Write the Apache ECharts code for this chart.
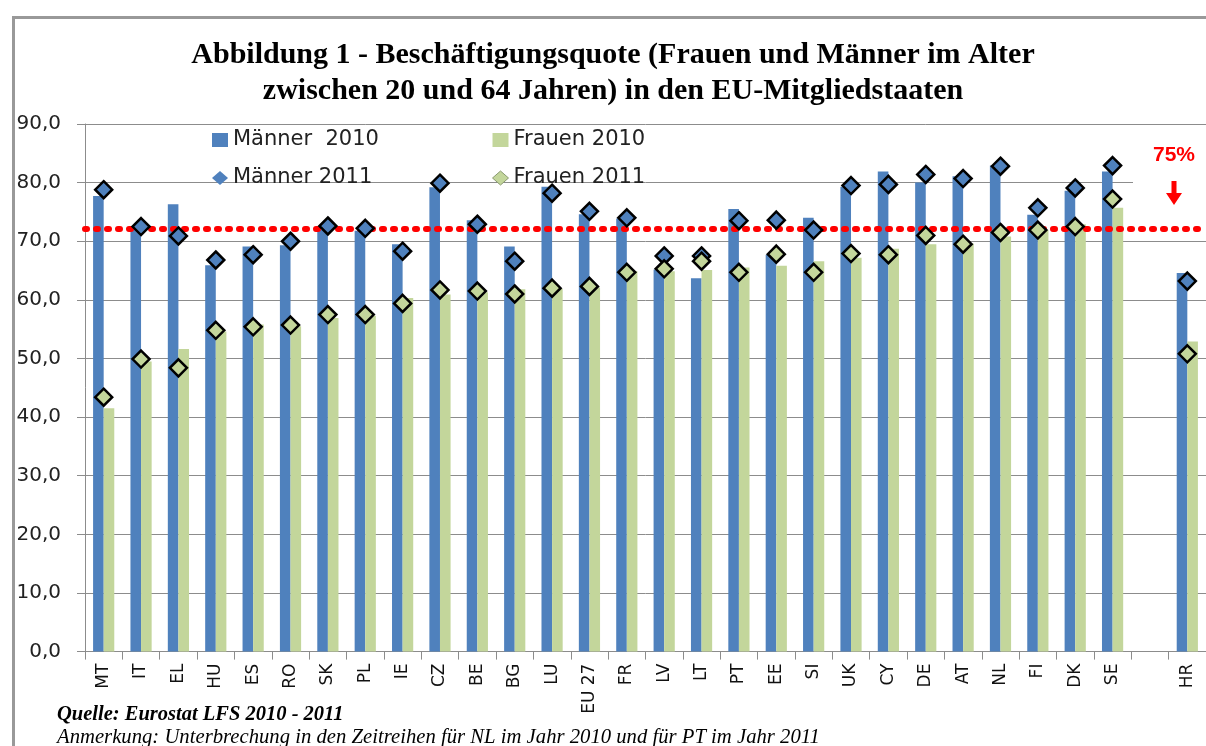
<!DOCTYPE html>
<html>
<head>
<meta charset="utf-8">
<script src="https://cdn.jsdelivr.net/npm/echarts@6/dist/echarts.min.js"></script>
<style>
html,body{margin:0;padding:0;background:#fff;}
#chart{width:1206px;height:746px;}
</style>
</head>
<body>
<div id="chart"></div>
<script>
const categories = ['MT','IT','EL','HU','ES','RO','SK','PL','IE','CZ','BE','BG','LU','EU 27','FR','LV','LT','PT','EE','SI','UK','CY','DE','AT','NL','FI','DK','SE','','HR'];
const maenner2010 = [77.7,72.0,76.3,65.9,69.1,69.3,71.9,71.8,69.5,79.2,73.6,69.1,79.3,74.6,73.9,65.2,63.7,75.5,67.7,74.0,79.3,81.9,80.0,81.1,82.9,74.5,78.6,81.9,null,64.6];
const frauen2010 = [41.5,49.5,51.6,54.6,55.8,55.5,56.9,57.3,60.3,60.9,61.3,61.8,61.9,62.1,64.9,64.9,65.1,65.5,65.8,66.6,67.2,68.7,69.5,69.6,70.8,71.9,72.9,75.7,null,52.9];
const maenner2011 = [78.8,72.5,70.9,66.8,67.7,70.0,72.6,72.2,68.3,79.9,72.9,66.6,78.2,75.1,74.0,67.5,67.5,73.5,73.6,71.9,79.5,79.7,81.4,80.7,82.8,75.7,79.1,82.9,null,63.2];
const frauen2011 = [43.4,49.9,48.4,54.8,55.4,55.7,57.5,57.5,59.4,61.7,61.5,61.0,62.0,62.3,64.7,65.3,66.6,64.7,67.8,64.7,67.9,67.7,71.0,69.5,71.5,71.9,72.5,77.2,null,50.8];
const targetLine = 72.2;
const targetLabel = '75%';
const yTicks = {min: 0, max: 90, interval: 10};

const BLUE = '#4F81BD', GREEN = '#C3D69B', GRID = '#8c8c8c';
const sans = 'DejaVu Sans';

const chart = echarts.init(document.getElementById('chart'), null, {renderer: 'canvas'});
chart.setOption({
  animation: false,
  backgroundColor: '#fff',
  title: {
    text: 'Abbildung 1 - Beschäftigungsquote (Frauen und Männer im Alter\nzwischen 20 und 64 Jahren) in den EU-Mitgliedstaaten',
    left: 613, top: 37, textAlign: 'center', padding: 0,
    textStyle: {fontFamily: 'Liberation Serif', fontWeight: 'bold', fontSize: 30, lineHeight: 36, color: '#000'}
  },
  legend: [
    {orient: 'vertical', left: 207, top: 124, itemGap: 16, itemWidth: 16, itemHeight: 14,
     textStyle: {fontFamily: sans, fontSize: 21, color: '#222', lineHeight: 22},
     data: [{name: 'Männer  2010', icon: 'rect'}, {name: 'Männer 2011', icon: 'diamond', itemStyle: {borderWidth: 0}}]},
    {orient: 'vertical', left: 487, top: 124, itemGap: 16, itemWidth: 16, itemHeight: 14,
     textStyle: {fontFamily: sans, fontSize: 21, color: '#222', lineHeight: 22},
     data: [{name: 'Frauen 2010', icon: 'rect'}, {name: 'Frauen 2011', icon: 'diamond', itemStyle: {borderWidth: 1, borderColor: '#8a9a70'}}]}
  ],
  grid: {left: 85, top: 124, width: 1127.8, height: 527.6, containLabel: false},
  xAxis: {
    type: 'category', data: categories,
    axisLine: {lineStyle: {color: GRID, width: 1}},
    axisTick: {show: true, length: 8, lineStyle: {color: GRID}},
    axisLabel: {rotate: 90, interval: 0, margin: 12, fontFamily: sans, fontSize: 17, color: '#111'}
  },
  yAxis: {
    type: 'value', min: yTicks.min, max: yTicks.max, interval: yTicks.interval,
    axisLine: {show: true, lineStyle: {color: GRID, width: 1}},
    axisTick: {show: true, length: 8, lineStyle: {color: GRID}},
    splitLine: {lineStyle: {color: GRID, width: 1}},
    axisLabel: {margin: 24, fontFamily: sans, fontSize: 20, color: '#222',
      formatter: v => v.toFixed(1).replace('.', ',')}
  },
  series: [
    {name: 'Männer  2010', type: 'bar', data: maenner2010, barWidth: 10.6, barGap: '0%',
     itemStyle: {color: BLUE}, z: 2,
     markLine: {silent: true, symbol: 'none', label: {show: false}, z: 3,
       lineStyle: {color: '#FF0000', width: 6, type: [2, 9], cap: 'round'},
       data: [{yAxis: targetLine}]}},
    {name: 'Frauen 2010', type: 'bar', data: frauen2010, barWidth: 10.6, barGap: '0%',
     itemStyle: {color: GREEN}, z: 2},
    {name: 'Männer 2011', type: 'scatter', data: maenner2011, symbol: 'diamond', symbolSize: 17,
     itemStyle: {color: BLUE, borderColor: '#000', borderWidth: 2.5, opacity: 1}, z: 5},
    {name: 'Frauen 2011', type: 'scatter', data: frauen2011, symbol: 'diamond', symbolSize: 17,
     itemStyle: {color: GREEN, borderColor: '#000', borderWidth: 2.5, opacity: 1}, z: 5}
  ],
  graphic: [
    {type: 'rect', left: 11, top: 15, shape: {width: 1220, height: 760}, z: 200,
     style: {fill: 'none', stroke: '#999', lineWidth: 3}},
    {type: 'rect', shape: {x: 1133, y: 136, width: 80, height: 78}, z: 100, style: {fill: '#fff'}},
    {type: 'text', x: 1174, y: 155, z: 101,
     style: {text: targetLabel, fill: '#FF0000', font: 'bold 21px "Liberation Sans Narrow", "Liberation Sans", sans-serif', textAlign: 'center', textVerticalAlign: 'middle'}},
    {type: 'polygon', z: 101,
     shape: {points: [[1171.5, 181], [1176.5, 181], [1176.5, 193], [1182, 193], [1174, 205], [1166, 193], [1171.5, 193]]},
     style: {fill: '#FF0000'}},
    {type: 'text', x: 57, y: 715, z: 101,
     style: {text: 'Quelle: Eurostat LFS 2010 - 2011', fill: '#000', font: 'italic bold 20.5px "Liberation Serif", serif', textVerticalAlign: 'middle'}},
    {type: 'text', x: 57, y: 738, z: 101,
     style: {text: 'Anmerkung: Unterbrechung in den Zeitreihen für NL im Jahr 2010 und für PT im Jahr 2011', fill: '#000', font: 'italic 20.7px "Liberation Serif", serif', textVerticalAlign: 'middle'}}
  ]
});
</script>
</body>
</html>
